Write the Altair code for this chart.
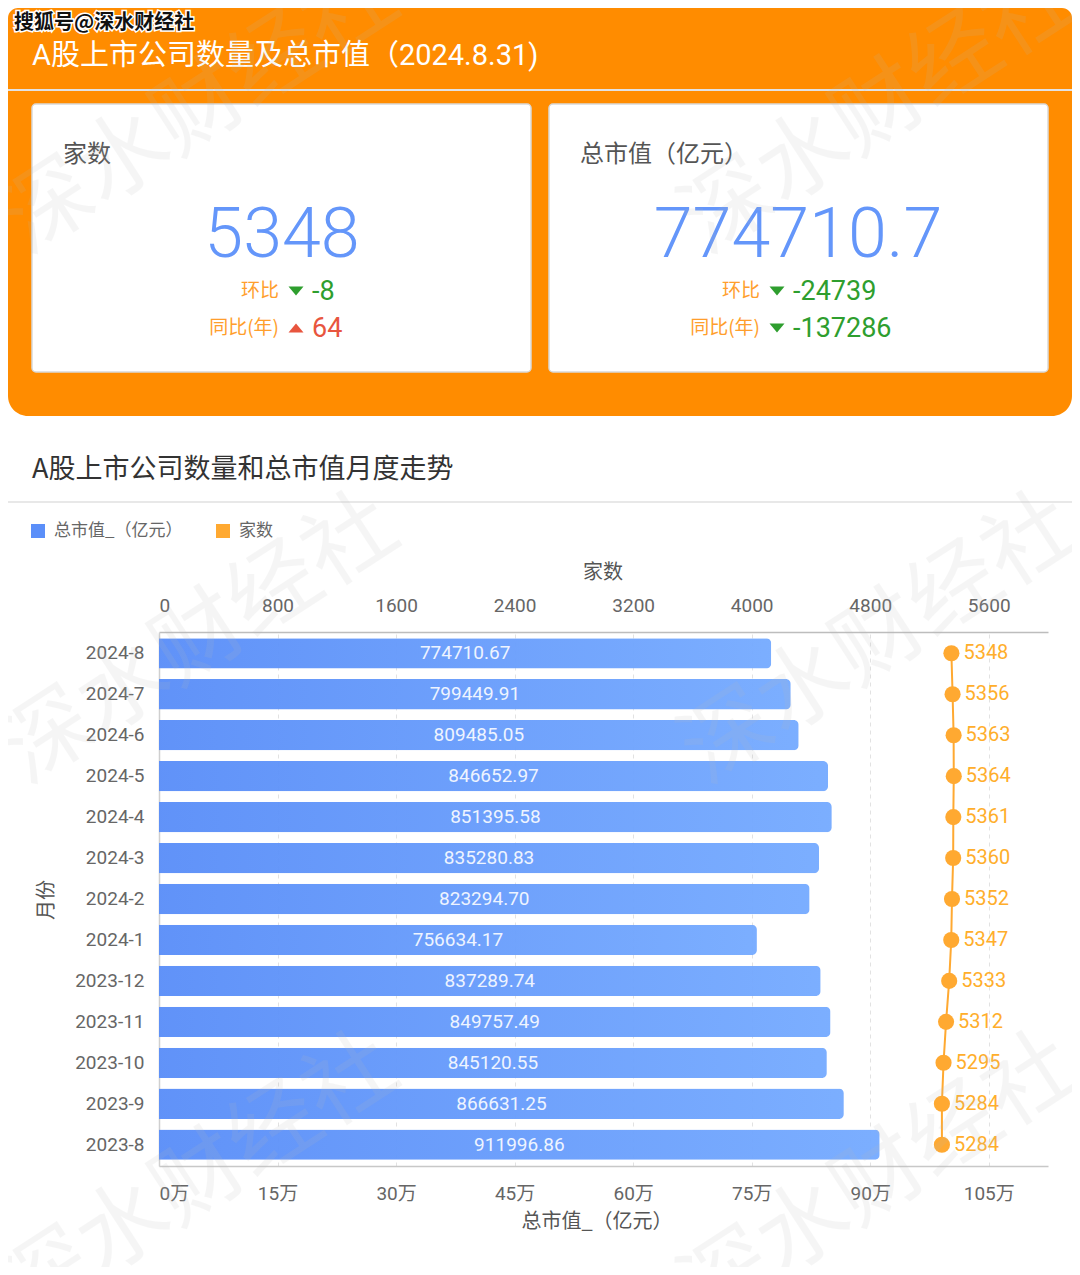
import altair as alt
import pandas as pd

# ---------------- data ----------------
months = ["2024-8", "2024-7", "2024-6", "2024-5", "2024-4", "2024-3", "2024-2",
          "2024-1", "2023-12", "2023-11", "2023-10", "2023-9", "2023-8"]
market_cap = [774710.67, 799449.91, 809485.05, 846652.97, 851395.58, 835280.83,
              823294.70, 756634.17, 837289.74, 849757.49, 845120.55, 866631.25,
              911996.86]
company_count = [5348, 5356, 5363, 5364, 5361, 5360, 5352, 5347, 5333, 5312,
                 5295, 5284, 5284]
series_names = ["总市值_（亿元）", "家数"]
cap_ticks = [0, 150000, 300000, 450000, 600000, 750000, 900000, 1050000]
count_ticks = [0, 800, 1600, 2400, 3200, 4000, 4800, 5600]

header_title = "A股上市公司数量及总市值（2024.8.31)"
section_title = "A股上市公司数量和总市值月度走势"
card_titles = ["家数", "总市值（亿元）"]
latest_count = company_count[0]
latest_cap = market_cap[0]
count_mom = company_count[0] - company_count[1]
count_yoy = company_count[0] - company_count[-1]
cap_mom = round(market_cap[0] - market_cap[1])
cap_yoy = round(market_cap[0] - market_cap[-1])

df = pd.DataFrame({"month": months, "cap": market_cap, "count": company_count,
                   "idx": list(range(len(months)))})
one = pd.DataFrame({"k": [0]})

# ---------------- layout helpers (reference pixel coords) ----------------
L, T = 159, 632          # plot-area origin in reference pixels
PW, PH = 889, 534        # plot-area size


def X(px):
    return px - L


def Y(py):
    return py - T


CJK = "'Noto Sans CJK SC', sans-serif"
NUM = "Roboto, 'Noto Sans CJK SC', sans-serif"

BLUE = "#5B8FF9"
ORANGE = "#FFA931"
GREEN = "#2E9E2E"
RED = "#E8553E"
LABEL_ORANGE = "#FF9E2C"


def txt(s, x, y, size, color, font=CJK, align="left", baseline="middle",
        weight="normal", angle=0, **kw):
    return alt.Chart(one).mark_text(
        text=s, align=align, baseline=baseline, fontSize=size, color=color,
        font=font, fontWeight=weight, angle=angle, **kw
    ).encode(x=alt.value(X(x)), y=alt.value(Y(y)))


def rect(x1, y1, x2, y2, fill, **kw):
    return alt.Chart(one).mark_rect(fill=fill, **kw).encode(
        x=alt.value(X(x1)), x2=alt.value(X(x2)),
        y=alt.value(Y(y1)), y2=alt.value(Y(y2)))


def hline(x1, x2, y, color, width=1):
    return alt.Chart(one).mark_rule(color=color, strokeWidth=width).encode(
        x=alt.value(X(x1)), x2=alt.value(X(x2)), y=alt.value(Y(y)))


def tri(x, y, up, color):
    path = "M-1,0.6L1,0.6L0,-0.6Z" if up else "M-1,-0.6L1,-0.6L0,0.6Z"
    return alt.Chart(one).mark_point(shape=path, filled=True, size=225,
                                     color=color, opacity=1).encode(
        x=alt.value(X(x)), y=alt.value(Y(y)))


def signed(v):
    return f"{v:d}"


layers = []

# header block
layers.append(rect(8, 8, 1072, 416, "#FF8C00", cornerRadiusTopLeft=10,
                   cornerRadiusTopRight=10, cornerRadiusBottomLeft=20,
                   cornerRadiusBottomRight=20))
layers.append(hline(8, 1072, 90, "#E2E2E2", 2))
layers.append(txt(header_title, 32, 56, 29, "white", font=NUM))
layers.append(txt("搜狐号@深水财经社", 14, 23, 20, "white", weight="bold",
                  stroke="white", strokeWidth=3))
layers.append(txt("搜狐号@深水财经社", 14, 23, 20, "#111111", weight="bold"))

# cards
for cx1, cx2 in [(32, 531), (549, 1048)]:
    layers.append(rect(cx1, 104, cx2, 372, "white", stroke="#D9D9D9",
                       strokeWidth=1.5, cornerRadius=4))

# left card
layers.append(txt(card_titles[0], 63, 155, 24, "#555555"))
layers.append(txt(str(latest_count), 282, 236, 70, "#6496FA", font=NUM,
                  align="center", weight=300))
layers.append(txt("环比", 279, 291, 19, LABEL_ORANGE, align="right"))
layers.append(tri(296, 291, count_mom > 0, RED if count_mom > 0 else GREEN))
layers.append(txt(signed(count_mom), 312, 292, 27,
                  RED if count_mom > 0 else GREEN, font=NUM))
layers.append(txt("同比(年)", 279, 328, 19, LABEL_ORANGE, align="right"))
layers.append(tri(296, 328, count_yoy > 0, RED if count_yoy > 0 else GREEN))
layers.append(txt(signed(count_yoy), 312, 329, 27,
                  RED if count_yoy > 0 else GREEN, font=NUM))

# right card
layers.append(txt(card_titles[1], 580, 155, 24, "#555555"))
layers.append(txt(f"{latest_cap:.1f}", 798, 236, 70, "#6496FA", font=NUM,
                  align="center", weight=300))
layers.append(txt("环比", 760, 291, 19, LABEL_ORANGE, align="right"))
layers.append(tri(777, 291, cap_mom > 0, RED if cap_mom > 0 else GREEN))
layers.append(txt(signed(cap_mom), 793, 292, 27,
                  RED if cap_mom > 0 else GREEN, font=NUM))
layers.append(txt("同比(年)", 760, 328, 19, LABEL_ORANGE, align="right"))
layers.append(tri(777, 328, cap_yoy > 0, RED if cap_yoy > 0 else GREEN))
layers.append(txt(signed(cap_yoy), 793, 329, 27,
                  RED if cap_yoy > 0 else GREEN, font=NUM))

# section title + divider
layers.append(txt(section_title, 32, 470, 27, "#333333"))
layers.append(hline(8, 1072, 502, "#E8E8E8", 2))

# legend
layers.append(rect(31, 524, 45, 538, BLUE))
layers.append(txt(series_names[0], 54, 531, 17, "#666666"))
layers.append(rect(216, 524, 230, 538, ORANGE))
layers.append(txt(series_names[1], 239, 531, 17, "#666666"))

# axis titles
layers.append(txt(series_names[1], 603, 573, 20, "#555555", align="center"))
layers.append(txt(series_names[0], 597, 1222, 20, "#555555", align="center"))
layers.append(txt("月份", 47, 900, 20, "#555555", align="center", angle=270))

# ---------------- data layers ----------------
y_enc = alt.Y(
    "month:N", sort=months,
    scale=alt.Scale(type="band", domain=months, paddingInner=0.26,
                    paddingOuter=0.15),
    axis=alt.Axis(title=None, labelFont=NUM, labelFontSize=19,
                  labelColor="#666666", labelPadding=15, ticks=False,
                  domain=True, domainColor="#CFCFCF", domainWidth=1.5,
                  grid=False))

cap_scale = alt.Scale(domain=[0, 1125000], nice=False, zero=True)
cnt_scale = alt.Scale(domain=[0, 6000], nice=False, zero=True)

gradient = alt.Gradient(
    gradient="linear",
    stops=[alt.GradientStop(color="#5A8EF8", offset=0),
           alt.GradientStop(color="#76ABFF", offset=1)],
    x1=0, x2=1, y1=0, y2=0)

bars = alt.Chart(df).mark_bar(color=gradient, cornerRadiusEnd=5,
                              fillOpacity=0.96).encode(
    x=alt.X("cap:Q", scale=cap_scale,
            axis=alt.Axis(orient="bottom", values=cap_ticks,
                          labelExpr="datum.value / 10000 + '万'", title=None,
                          grid=True, gridDash=[4, 4], gridColor="#E2E2E2",
                          ticks=False, labelFlush=True, domainColor="#C8C8C8",
                          domainWidth=1.5, labelFont=NUM, labelFontSize=19,
                          labelColor="#666666", labelPadding=18)),
    y=y_enc)

bar_labels = alt.Chart(df).transform_calculate(
    mid="datum.cap / 2").mark_text(
    fontSize=19, font=NUM, color="#EEF4FF", baseline="middle",
    align="center").encode(
    x=alt.X("mid:Q", scale=cap_scale, axis=None),
    y=y_enc,
    text=alt.Text("cap:Q", format=".2f"))

line = alt.Chart(df).mark_line(color=ORANGE, strokeWidth=2).encode(
    x=alt.X("count:Q", scale=cnt_scale,
            axis=alt.Axis(orient="top", values=count_ticks, format="d",
                          title=None, grid=False, ticks=False, labelFlush=True,
                          domainColor="#BDBDBD", domainWidth=1.5,
                          labelFont=NUM, labelFontSize=19,
                          labelColor="#666666", labelPadding=17)),
    y=y_enc,
    order=alt.Order("idx:Q"))

points = alt.Chart(df).mark_circle(size=260, color=ORANGE, opacity=1).encode(
    x=alt.X("count:Q", scale=cnt_scale, axis=None), y=y_enc)

point_labels = alt.Chart(df).mark_text(
    align="left", baseline="middle", dx=12, fontSize=20, font=NUM,
    color="#FFAE2B").encode(
    x=alt.X("count:Q", scale=cnt_scale, axis=None), y=y_enc,
    text=alt.Text("count:Q"))

# watermark
marks = []
for wx, wy in [(200, 110), (880, 110), (200, 640), (880, 640), (200, 1180),
               (880, 1180)]:
    marks.append(txt("深水财经社", wx, wy, 90, "#BBBBBB", align="center",
                     angle=327, opacity=0.13))

chart = alt.layer(*layers, bars, bar_labels, line, points, point_labels,
                  *marks).resolve_scale(
    x="independent"
).properties(
    width=PW, height=PH,
    autosize="none",
    padding={"left": L - 8, "top": T - 8, "right": 1072 - (L + PW),
             "bottom": 1267 - (T + PH)},
    background="white",
).configure_view(stroke=None)

chart.save("out.html", embed_options={"renderer": "svg", "actions": False})
